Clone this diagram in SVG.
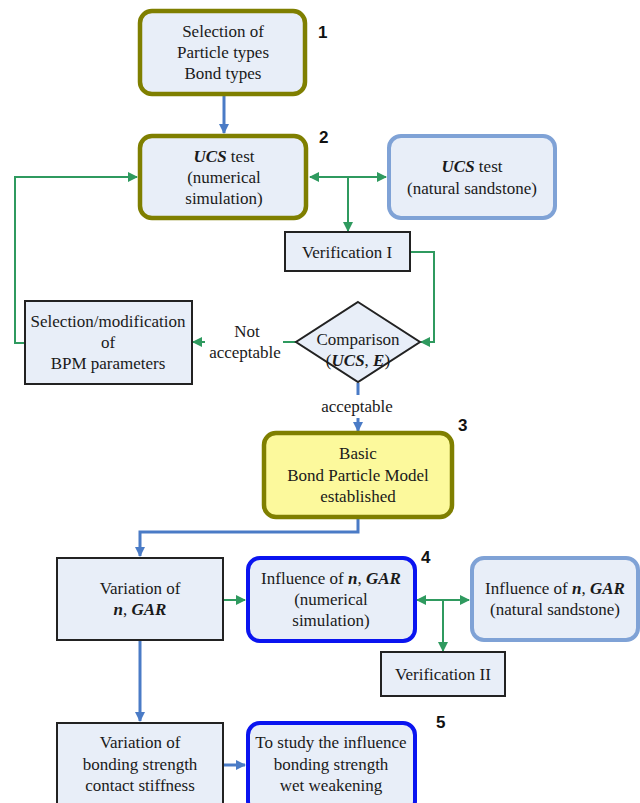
<svg xmlns="http://www.w3.org/2000/svg" width="640" height="803" viewBox="0 0 640 803">
<defs>
<marker id="ab" markerWidth="10" markerHeight="10" refX="9" refY="5" orient="auto" markerUnits="userSpaceOnUse"><path d="M0,0 L10,5 L0,10 Z" fill="#4a7bc6"/></marker>
<marker id="ag" markerWidth="10" markerHeight="10" refX="9" refY="5" orient="auto" markerUnits="userSpaceOnUse"><path d="M0,0 L10,5 L0,10 Z" fill="#2f9a5f"/></marker>
<marker id="ags" markerWidth="10" markerHeight="10" refX="1" refY="5" orient="auto" markerUnits="userSpaceOnUse"><path d="M10,0 L0,5 L10,10 Z" fill="#2f9a5f"/></marker>
</defs>
<style>
.t{font-size:17px;fill:#1a1a1a;text-anchor:middle}
.num{font-weight:bold;font-size:17px;fill:#111}
.olive{fill:#e8eef8;stroke:#7f7f00;stroke-width:4.5}
.yel{fill:#fcf99c;stroke:#7f7f00;stroke-width:4.5}
.lb{fill:#e8eef8;stroke:#7fa2d6;stroke-width:4}
.bb{fill:#e8eef8;stroke:#0a14f0;stroke-width:4}
.sq{fill:#e8eef8;stroke:#222;stroke-width:2}
.blue{stroke:#4a7bc6;stroke-width:3;fill:none}
.green{stroke:#2f9a5f;stroke-width:2;fill:none}
.bi{font-weight:bold;font-style:italic}
</style>
<rect width="640" height="803" fill="#fff"/>
<g id="connectors">
<path class="blue" d="M224,96 V133" marker-end="url(#ab)"/>
<path class="green" d="M310,177 H386" marker-start="url(#ags)" marker-end="url(#ag)"/>
<path class="green" d="M348,177 V231" marker-end="url(#ag)"/>
<path class="green" d="M410,252 H434 V342 H421" marker-end="url(#ag)"/>
<path class="green" d="M296,342 H283"/>
<path class="green" d="M205,342 H193" marker-end="url(#ag)"/>
<path class="green" d="M25,343 H15 V177 H137" marker-end="url(#ag)"/>
<path class="blue" d="M358,383 V395"/>
<path class="blue" d="M358,418 V431" marker-end="url(#ab)"/>
<path class="blue" d="M358,519 V532 H140 V556" marker-end="url(#ab)"/>
<path class="green" d="M223,600 H245" marker-end="url(#ag)"/>
<path class="green" d="M417,600 H469" marker-start="url(#ags)" marker-end="url(#ag)"/>
<path class="green" d="M443,600 V651" marker-end="url(#ag)"/>
<path class="blue" d="M140,641 V721" marker-end="url(#ab)"/>
<path class="blue" d="M223,765 H245" marker-end="url(#ab)"/>
</g>
<g font-family="Liberation Sans, Arial, sans-serif">
<text class="num" x="318" y="38">1</text>
<text class="num" x="319" y="143">2</text>
<text class="num" x="458" y="431">3</text>
<text class="num" x="421" y="563">4</text>
<text class="num" x="436" y="728">5</text>
</g>
<g font-family="Liberation Serif, Times New Roman, serif">
<g id="n1">
<rect class="olive" x="140" y="11" width="165" height="83" rx="12"/>
<text class="t" x="223" y="37">Selection of</text>
<text class="t" x="223" y="58">Particle types</text>
<text class="t" x="223" y="79">Bond types</text>
</g>
<g id="n2">
<rect class="olive" x="140" y="136" width="166" height="82" rx="12"/>
<text class="t" x="224" y="162"><tspan class="bi">UCS</tspan> test</text>
<text class="t" x="224" y="183">(numerical</text>
<text class="t" x="224" y="204">simulation)</text>
</g>
<g id="n2b">
<rect class="lb" x="389" y="136" width="166" height="82" rx="12"/>
<text class="t" x="472" y="172"><tspan class="bi">UCS</tspan> test</text>
<text class="t" x="472" y="194">(natural sandstone)</text>
</g>
<g id="ver1">
<rect class="sq" x="285" y="232" width="125" height="39"/>
<text class="t" x="347" y="258">Verification I</text>
</g>
<g id="cmp">
<path d="M358,302 L420,342 L358,382 L296,342 Z" fill="#e8eef8" stroke="#222" stroke-width="2"/>
<text class="t" x="358" y="345">Comparison</text>
<text class="t" x="358" y="366">(<tspan class="bi">UCS</tspan>, <tspan class="bi">E</tspan>)</text>
</g>
<text class="t" x="247" y="337">Not</text>
<text class="t" x="245" y="358">acceptable</text>
<text class="t" x="357" y="412">acceptable</text>
<g id="bpm">
<rect class="sq" x="25" y="301" width="167" height="83"/>
<text class="t" x="108" y="327">Selection/modification</text>
<text class="t" x="108" y="348">of</text>
<text class="t" x="108" y="369">BPM parameters</text>
</g>
<g id="n3">
<rect class="yel" x="264" y="433" width="188" height="84" rx="12"/>
<text class="t" x="358" y="459">Basic</text>
<text class="t" x="358" y="481">Bond Particle Model</text>
<text class="t" x="358" y="502">established</text>
</g>
<g id="var1">
<rect class="sq" x="57" y="558" width="166" height="82"/>
<text class="t" x="140" y="594">Variation of</text>
<text class="t" x="140" y="615"><tspan class="bi">n</tspan>, <tspan class="bi">GAR</tspan></text>
</g>
<g id="n4">
<rect class="bb" x="248" y="558" width="167" height="83" rx="12"/>
<text class="t" x="331" y="584">Influence of <tspan class="bi">n</tspan>, <tspan class="bi">GAR</tspan></text>
<text class="t" x="331" y="605">(numerical</text>
<text class="t" x="331" y="626">simulation)</text>
</g>
<g id="n4b">
<rect class="lb" x="472" y="558" width="166" height="82" rx="12"/>
<text class="t" x="555" y="594">Influence of <tspan class="bi">n</tspan>, <tspan class="bi">GAR</tspan></text>
<text class="t" x="555" y="615">(natural sandstone)</text>
</g>
<g id="ver2">
<rect class="sq" x="381" y="652" width="124" height="44"/>
<text class="t" x="443" y="680">Verification II</text>
</g>
<g id="var2">
<rect class="sq" x="57" y="723" width="166" height="90"/>
<text class="t" x="140" y="748">Variation of</text>
<text class="t" x="140" y="770">bonding strength</text>
<text class="t" x="140" y="791">contact stiffness</text>
</g>
<g id="n5">
<rect class="bb" x="248" y="723" width="167" height="90" rx="12"/>
<text class="t" x="331" y="748">To study the influence</text>
<text class="t" x="331" y="770">bonding strength</text>
<text class="t" x="331" y="791">wet weakening</text>
</g>
</g>
</svg>
